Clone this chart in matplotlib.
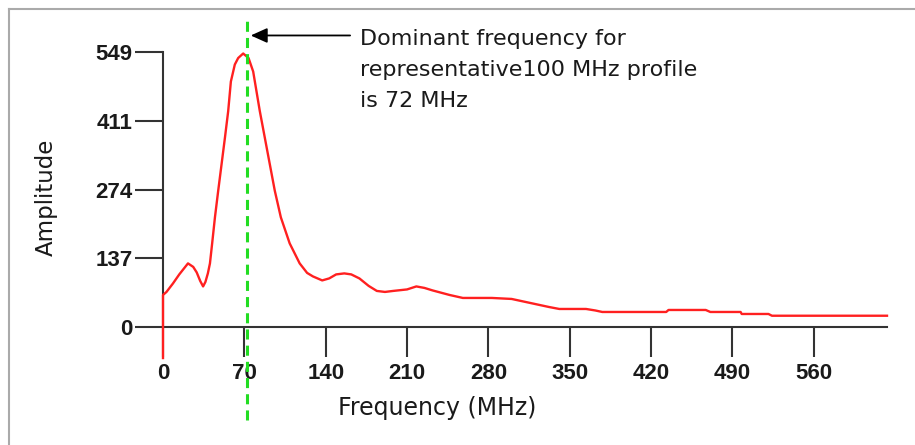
#plot.py - Amplitude spectrum of a 100 MHz profile with dominant frequency marked

import matplotlib
matplotlib.use('Agg')
import matplotlib.pyplot as plt
from matplotlib.lines import Line2D

plt.rcParams['font.family'] = ['Liberation Sans', 'DejaVu Sans']

# data
freq = [0, 0, 3, 8.6, 14, 21.5, 26, 29, 32, 34.5, 36.5, 38.6, 40.4, 42.3, 44.7, 47.5,
        50.4, 53.3, 56.1, 58.4, 61.8, 64.7, 69, 73.6, 77.6, 83.3, 87.6, 91.9, 96.2, 101.4,
        109, 117.6, 124, 129, 137, 143, 149, 156, 162, 169,
        177, 184, 191, 198, 210, 218, 225, 232, 246.5, 258, 270, 283, 300, 312, 322, 332,
        341, 364, 372, 378, 433, 435, 467, 471, 497, 498, 521, 524, 623]
amp = [-62, 64, 70, 87, 105, 127, 120, 109, 92, 81, 90, 107, 127, 167, 219, 272,
       325, 378, 431, 490, 524, 537, 546, 537, 510, 431, 378, 325, 272, 219,
       167, 127, 108, 101, 93, 97, 105, 107, 105, 97,
       82, 72, 70, 72, 75, 81, 78, 73, 64, 58, 58, 58, 56, 50, 45, 40,
       36, 36, 33, 30, 30, 34, 34, 30, 30, 26, 26, 22.5, 22.5]

x_ticks = [0, 70, 140, 210, 280, 350, 420, 490, 560]
y_ticks = [0, 137, 274, 411, 549]
dominant_freq = 72
note = 'Dominant frequency for\nrepresentative100 MHz profile\nis 72 MHz'

W, H = 915, 445
fig = plt.figure(figsize=(W / 100, H / 100), dpi=100)
ax = fig.add_axes([163 / W, 1 - 327 / H, (887 - 163) / W, (327 - 52) / H])

# spectrum curve
ax.plot(freq, amp, color='#ff2020', linewidth=1.7, clip_on=False, zorder=3)

# dominant frequency marker
ax.plot([dominant_freq, dominant_freq], [-185, 618], color='#22dd22', linewidth=2.2,
        linestyle=(0, (3.3, 2.0)), clip_on=False, zorder=4)

# arrow + note
ax.annotate('', xy=(dominant_freq + 3.5, 582), xytext=(161, 582),
            arrowprops=dict(arrowstyle='-|>,head_length=1.0,head_width=0.45',
                            color='black', lw=1.3, shrinkA=0, shrinkB=0),
            annotation_clip=False)
fig.text(360 / W, 1 - 29 / H, note, fontsize=16, va='top', ha='left',
         linespacing=1.68, color='#1a1a1a', family='DejaVu Sans')

# axes styling
ax.set_xlim(0, 623)
ax.set_ylim(0, 549)
for s in ['top', 'right']:
    ax.spines[s].set_visible(False)
for s in ['left', 'bottom']:
    ax.spines[s].set_color('#333333')
    ax.spines[s].set_linewidth(1.5)
ax.set_xticks(x_ticks)
ax.set_yticks(y_ticks)
ax.tick_params(axis='x', length=21.6, width=1.5, color='#333333', pad=4,
               labelsize=16)
ax.tick_params(axis='y', length=20, width=1.5, color='#333333', pad=2,
               labelsize=16)
for lab in ax.get_xticklabels() + ax.get_yticklabels():
    lab.set_fontweight('bold')
    lab.set_color('#1a1a1a')

fig.text(437 / W, 1 - 408 / H, 'Frequency (MHz)', fontsize=17, ha='center',
         va='center', color='#1a1a1a', family='DejaVu Sans')
fig.text(46 / W, 1 - 197 / H, 'Amplitude', fontsize=16.5, ha='center', va='center',
         rotation=90, color='#1a1a1a', family='DejaVu Sans')

# partial grey frame (left and top)
fig.add_artist(Line2D([9 / W, 9 / W], [0, 1 - 9 / H], color='#aaaaaa', linewidth=1.5))
fig.add_artist(Line2D([9 / W, 1], [1 - 9 / H, 1 - 9 / H], color='#aaaaaa', linewidth=1.5))

fig.savefig('out.png', dpi=100)
